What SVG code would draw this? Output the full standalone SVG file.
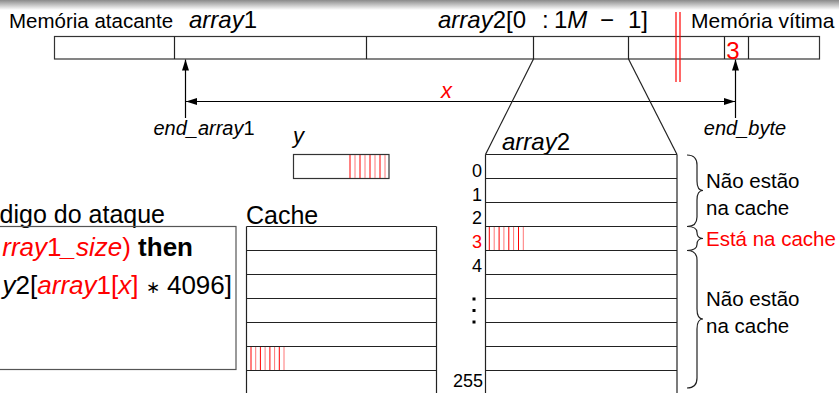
<svg xmlns="http://www.w3.org/2000/svg" width="839" height="393" viewBox="0 0 839 393">
<defs>
<linearGradient id="topg" x1="0" y1="0" x2="0" y2="1">
<stop offset="0" stop-color="#8a8a8a"/>
<stop offset="1" stop-color="#ffffff"/>
</linearGradient>
<marker id="ah" viewBox="0 0 11 7" refX="11" refY="3.5" markerWidth="11" markerHeight="7" markerUnits="userSpaceOnUse" orient="auto-start-reverse">
<path d="M0,0 L11,3.5 L0,7 z" fill="#000"/>
</marker>
</defs>
<style>
text{font-family:"Liberation Sans",Arial,sans-serif;fill:#000}
.it{font-style:italic}
.red{fill:#ff0000}
.box{fill:none;stroke:#333;stroke-width:1.2}
.ln{stroke:#222;stroke-width:1.2;fill:none}
.s1{stroke:#ff0000;stroke-width:1}
.s2{stroke:#ff7777;stroke-width:1}
.arr{stroke:#000;stroke-width:1.2;fill:none}
</style>
<rect x="0" y="0" width="839" height="10" fill="url(#topg)"/>

<g id="memory">
<rect class="box" x="54.5" y="36.5" width="765" height="22.5"/>
<line class="ln" x1="174.5" y1="36.5" x2="174.5" y2="59"/>
<line class="ln" x1="366.5" y1="36.5" x2="366.5" y2="59"/>
<line class="ln" x1="533.5" y1="36.5" x2="533.5" y2="59"/>
<line class="ln" x1="628.5" y1="36.5" x2="628.5" y2="59"/>
<line class="ln" x1="724.5" y1="36.5" x2="724.5" y2="59"/>
<line class="ln" x1="748.5" y1="36.5" x2="748.5" y2="59"/>
<text x="733" y="59" font-size="24" text-anchor="middle" class="red">3</text>
<line x1="676" y1="12" x2="676" y2="82" stroke="#ff0000" stroke-width="1.2"/>
<line x1="680" y1="12" x2="680" y2="82" stroke="#ff0000" stroke-width="1.2"/>
<text x="9" y="28" font-size="20.5">Memória atacante</text>
<text x="189" y="28" font-size="24"><tspan class="it">array</tspan>1</text>
<text y="28" font-size="24"><tspan x="438" class="it">array</tspan>2[0<tspan x="542">:</tspan><tspan x="554">1</tspan><tspan class="it">M</tspan><tspan x="600">−</tspan><tspan x="628">1]</tspan></text>
<text x="691" y="28" font-size="21">Memória vítima</text>
</g>

<g id="connectors">
<line class="arr" x1="185.5" y1="118" x2="185.5" y2="59.5" marker-end="url(#ah)"/>
<line class="arr" x1="735.5" y1="118" x2="735.5" y2="59.5" marker-end="url(#ah)"/>
<line class="arr" x1="186" y1="101.5" x2="735" y2="101.5" marker-start="url(#ah)" marker-end="url(#ah)"/>
<line class="ln" x1="533.5" y1="59" x2="485.5" y2="154.5"/>
<line class="ln" x1="628.5" y1="59" x2="677" y2="154.5"/>
</g>

<g id="labels">
<text x="441" y="98" font-size="22" class="it red">x</text>
<text x="204" y="135" font-size="20" text-anchor="middle"><tspan class="it">end_array</tspan>1</text>
<text x="745" y="135" font-size="20" text-anchor="middle" class="it">end_byte</text>
</g>

<g id="y-var">
<text x="293" y="143" font-size="22" class="it">y</text>
<rect class="box" x="293.5" y="154.5" width="95.5" height="24"/>
<g>
<line class="s1" x1="350" y1="155" x2="350" y2="178"/>
<line class="s2" x1="355" y1="155" x2="355" y2="178"/>
<line class="s1" x1="360" y1="155" x2="360" y2="178"/>
<line class="s2" x1="365" y1="155" x2="365" y2="178"/>
<line class="s1" x1="370" y1="155" x2="370" y2="178"/>
<line class="s2" x1="375" y1="155" x2="375" y2="178"/>
<line class="s1" x1="380" y1="155" x2="380" y2="178"/>
<line class="s2" x1="385" y1="155" x2="385" y2="178"/>
</g>
</g>

<g id="code">
<text x="165" y="223" font-size="25" text-anchor="end">digo do ataque</text>
<rect x="-5" y="226.5" width="241" height="143" fill="none" stroke="#555" stroke-width="1.2"/>
<text x="193" y="256" font-size="26" text-anchor="end"><tspan class="it red">rray</tspan><tspan class="red">1</tspan><tspan class="it red">_size</tspan><tspan class="red">) </tspan><tspan font-weight="bold">then</tspan></text>
<text x="232" y="294" font-size="26" text-anchor="end"><tspan class="it">y</tspan>2[<tspan class="it red">array</tspan><tspan class="red">1[</tspan><tspan class="it red">x</tspan><tspan class="red">]</tspan> <tspan font-size="17" dy="-1">∗</tspan> <tspan dy="1">4096]</tspan></text>
</g>

<g id="cache">
<text x="246" y="224" font-size="25">Cache</text>
<line class="ln" x1="246.5" y1="226.5" x2="246.5" y2="393"/>
<line class="ln" x1="436.5" y1="226.5" x2="436.5" y2="393"/>
<line class="ln" x1="246.5" y1="226.5" x2="436.5" y2="226.5"/>
<line class="ln" x1="246.5" y1="250.5" x2="436.5" y2="250.5"/>
<line class="ln" x1="246.5" y1="274.5" x2="436.5" y2="274.5"/>
<line class="ln" x1="246.5" y1="298.5" x2="436.5" y2="298.5"/>
<line class="ln" x1="246.5" y1="322.5" x2="436.5" y2="322.5"/>
<line class="ln" x1="246.5" y1="346.5" x2="436.5" y2="346.5"/>
<line class="ln" x1="246.5" y1="370.5" x2="436.5" y2="370.5"/>
<g>
<line class="s1" x1="251" y1="347" x2="251" y2="370"/>
<line class="s2" x1="255.7" y1="347" x2="255.7" y2="370"/>
<line class="s1" x1="260.4" y1="347" x2="260.4" y2="370"/>
<line class="s2" x1="265.1" y1="347" x2="265.1" y2="370"/>
<line class="s1" x1="269.9" y1="347" x2="269.9" y2="370"/>
<line class="s2" x1="274.6" y1="347" x2="274.6" y2="370"/>
<line class="s1" x1="279.3" y1="347" x2="279.3" y2="370"/>
<line class="s2" x1="284" y1="347" x2="284" y2="370"/>
</g>
</g>

<g id="array2">
<text x="502" y="150" font-size="24"><tspan class="it">array</tspan>2</text>
<line class="ln" x1="485.5" y1="154.5" x2="485.5" y2="393"/>
<line class="ln" x1="677" y1="154.5" x2="677" y2="393"/>
<line class="ln" x1="485.5" y1="154.5" x2="677" y2="154.5"/>
<line class="ln" x1="485.5" y1="178.5" x2="677" y2="178.5"/>
<line class="ln" x1="485.5" y1="202.5" x2="677" y2="202.5"/>
<line class="ln" x1="485.5" y1="226.5" x2="677" y2="226.5"/>
<line class="ln" x1="485.5" y1="250.5" x2="677" y2="250.5"/>
<line class="ln" x1="485.5" y1="274.5" x2="677" y2="274.5"/>
<line class="ln" x1="485.5" y1="298.5" x2="677" y2="298.5"/>
<line class="ln" x1="485.5" y1="322.5" x2="677" y2="322.5"/>
<line class="ln" x1="485.5" y1="346.5" x2="677" y2="346.5"/>
<line class="ln" x1="485.5" y1="370.5" x2="677" y2="370.5"/>
<g>
<line class="s1" x1="489.3" y1="227" x2="489.3" y2="250"/>
<line class="s2" x1="494.2" y1="227" x2="494.2" y2="250"/>
<line class="s1" x1="499.1" y1="227" x2="499.1" y2="250"/>
<line class="s2" x1="503.9" y1="227" x2="503.9" y2="250"/>
<line class="s1" x1="508.8" y1="227" x2="508.8" y2="250"/>
<line class="s2" x1="513.6" y1="227" x2="513.6" y2="250"/>
<line class="s1" x1="518.5" y1="227" x2="518.5" y2="250"/>
<line class="s2" x1="523.3" y1="227" x2="523.3" y2="250"/>
</g>
<g font-size="18" text-anchor="end">
<text x="482" y="177">0</text>
<text x="482" y="201">1</text>
<text x="482" y="224">2</text>
<text x="482" y="248" class="red">3</text>
<text x="482" y="272">4</text>
<text x="483" y="387">255</text>
</g>
<rect x="472.5" y="297.5" width="3" height="3" fill="#000"/>
<rect x="472.5" y="309" width="3" height="3" fill="#000"/>
<rect x="472.5" y="320.5" width="3" height="3" fill="#000"/>
</g>

<g id="braces">
<path class="ln" d="M687,155 Q697,155 697,165 L697,181 Q697,190.5 703,190.5 Q697,190.5 697,200 L697,217 Q697,226.5 687,226.5"/>
<path class="ln" d="M687,226.5 Q697,226.5 697,232.5 Q697,238.5 703,238.5 Q697,238.5 697,244.5 Q697,250.5 687,250.5"/>
<path class="ln" d="M687,250.5 Q697,250.5 697,260 L697,309 Q697,319 703,319 Q697,319 697,329 L697,378 Q697,388 687,388"/>
<text x="706" y="188" font-size="20.5">Não estão</text>
<text x="706" y="215" font-size="20.5">na cache</text>
<text x="706" y="246" font-size="20.5" class="red">Está na cache</text>
<text x="706" y="306" font-size="20.5">Não estão</text>
<text x="706" y="333" font-size="20.5">na cache</text>
</g>
</svg>
